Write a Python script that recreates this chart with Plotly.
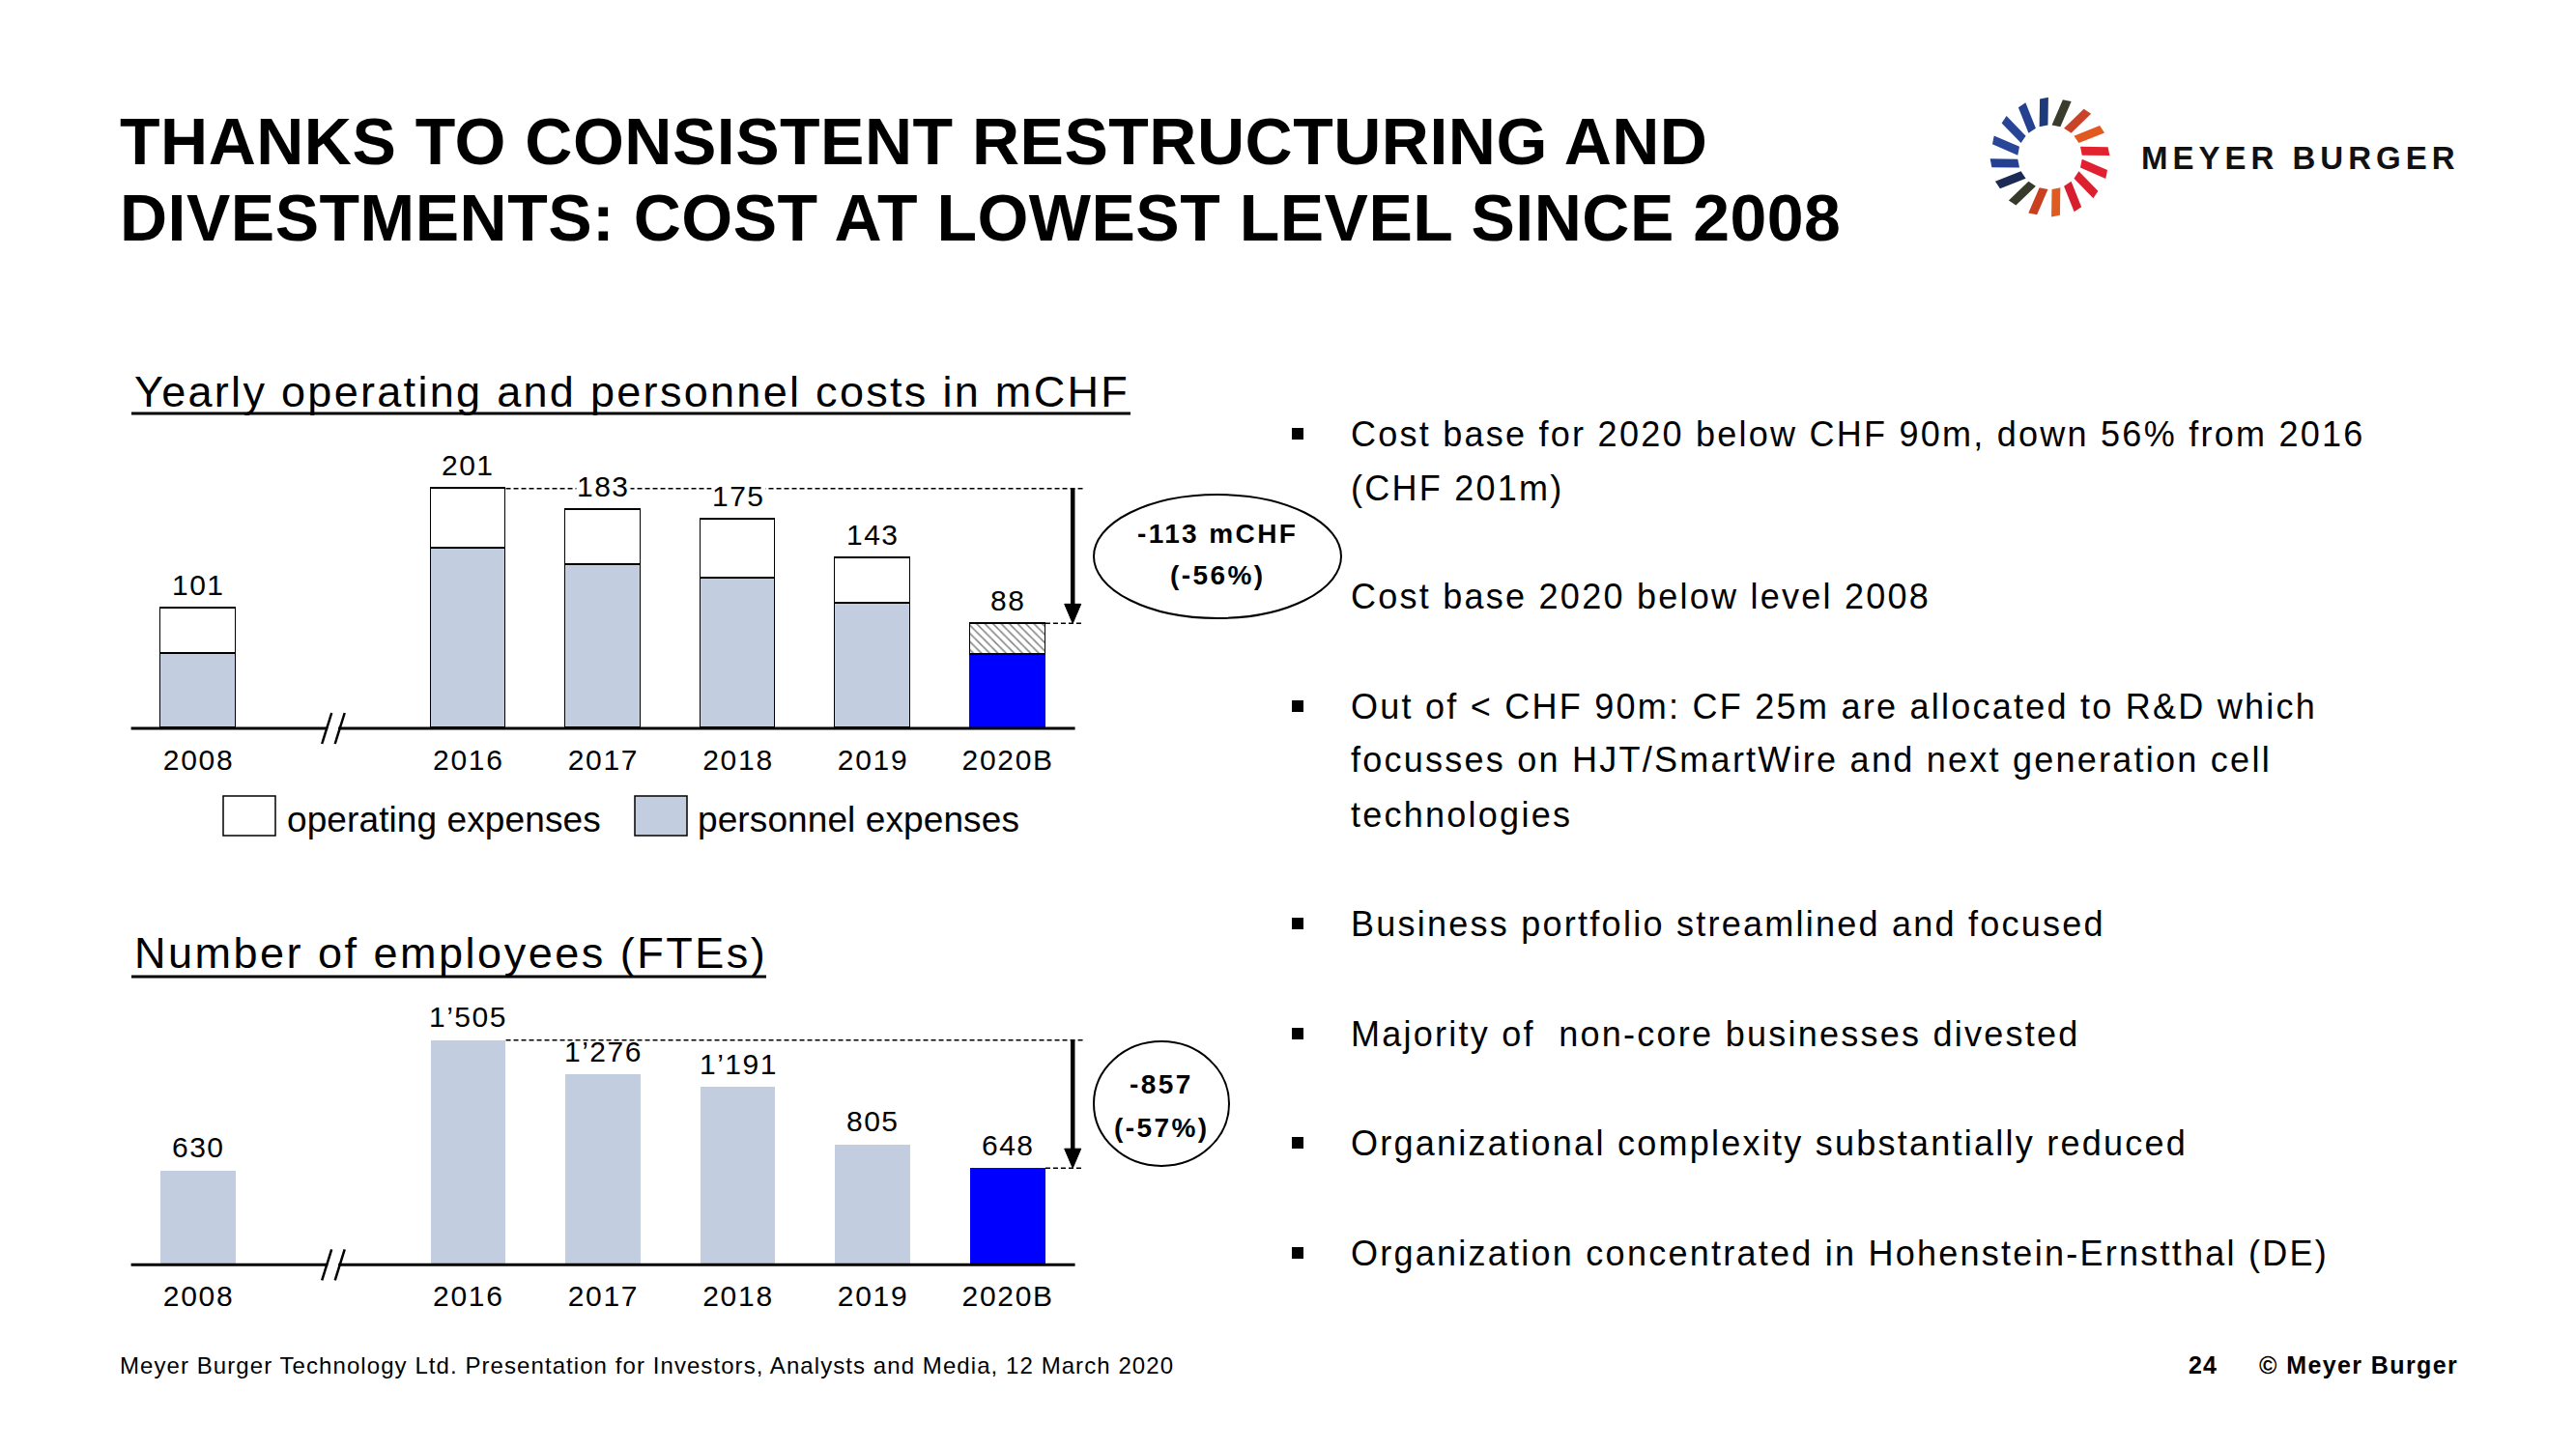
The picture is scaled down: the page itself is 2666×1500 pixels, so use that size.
import math
import plotly.graph_objects as go

# ---------------- data ----------------
years = ["2008", "2016", "2017", "2018", "2019", "2020B"]
year_pos = [0, 2, 3, 4, 5, 6]              # axis break between 2008 and 2016
total_costs = [101, 201, 183, 175, 143, 88]
personnel_costs = [63, 151, 137, 126, 105, 62]
operating_costs = [t - p for t, p in zip(total_costs, personnel_costs)]
employees = [630, 1505, 1276, 1191, 805, 648]

title_lines = ["THANKS TO CONSISTENT RESTRUCTURING AND",
               "DIVESTMENTS: COST AT LOWEST LEVEL SINCE 2008"]
cost_title = "Yearly operating and personnel costs in mCHF"
fte_title = "Number of employees (FTEs)"
legend_labels = ["operating expenses", "personnel expenses"]
# (text, has_bullet, y-centre in px)
bullet_lines = [
    ("Cost base for 2020 below CHF 90m, down 56% from 2016", True, 449),
    ("(CHF 201m)", False, 505),
    ("Cost base 2020 below level 2008", False, 617),
    ("Out of &lt; CHF 90m: CF 25m are allocated to R&amp;D which", True, 731),
    ("focusses on HJT/SmartWire and next generation cell", False, 787),
    ("technologies", False, 843),
    ("Business portfolio streamlined and focused", True, 956),
    ("Majority of\u00a0 non-core businesses divested", True, 1070),
    ("Organizational complexity substantially reduced", True, 1183),
    ("Organization concentrated in Hohenstein-Ernstthal (DE)", True, 1297),
]
footer_text = "Meyer Burger Technology Ltd. Presentation for Investors, Analysts and Media, 12 March 2020"
page_no = "24"
copyright_text = "© Meyer Burger"
logo_text = "MEYER BURGER"

# ---------------- styling / geometry ----------------
W, H = 2666, 1500
FONT = "Liberation Sans, Arial, sans-serif"
LIGHT = "#C3CDE0"
BLUE = "#0000FF"

X0_PX, UNIT = 205.6, 139.6
x_range = [-0.503, 6.9]
xdom = [(X0_PX + x_range[0] * UNIT) / W, (X0_PX + x_range[1] * UNIT) / W]
BASE1, S1, YMAX1 = 754.0, 1.235, 240
BASE2, S2, YMAX2 = 1309.3, 0.15455, 1800
ydom1 = [1 - BASE1 / H, 1 - (BASE1 - YMAX1 * S1) / H]
ydom2 = [1 - BASE2 / H, 1 - (BASE2 - YMAX2 * S2) / H]
BAR_W = 0.555
ARROW_X = 6.48
DASH_END = 6.56
AXIS_END = 6.497


def px(x):
    return x / W


def py(y):
    return 1 - y / H


def sp(text, ls):
    return f"<span style='letter-spacing:{ls}px'>{text}</span>"


def fmt(v):
    return f"{v:,}".replace(",", "\u2019")


fig = go.Figure()

# ---------------- bars ----------------
fig.add_trace(go.Bar(
    x=year_pos, y=personnel_costs, width=BAR_W, xaxis="x", yaxis="y",
    marker=dict(color=[LIGHT] * 5 + [BLUE],
                line=dict(color=["black"] * 5 + [BLUE], width=1.5)),
    hoverinfo="skip", showlegend=False))
fig.add_trace(go.Bar(
    x=year_pos, y=operating_costs, width=BAR_W, xaxis="x", yaxis="y",
    marker=dict(color="white", line=dict(color="black", width=1.5),
                pattern=dict(shape=[""] * 5 + ["\\"], fgcolor="black",
                             bgcolor="white", size=6, solidity=0.25)),
    hoverinfo="skip", showlegend=False))
fig.add_trace(go.Bar(
    x=year_pos, y=employees, width=BAR_W, xaxis="x2", yaxis="y2",
    marker=dict(color=[LIGHT] * 5 + [BLUE], line=dict(width=0)),
    hoverinfo="skip", showlegend=False))

tick_text = [sp(y, 1.7) for y in years]
axis_common = dict(domain=xdom, range=x_range, tickvals=year_pos, ticktext=tick_text,
                   showgrid=False, zeroline=False, showline=False, ticks="",
                   tickfont=dict(family=FONT, size=30, color="black"),
                   ticklabelstandoff=12, fixedrange=True)

shapes = []
annotations = []


# ---------------- per-chart decorations ----------------
def chart_decor(xr, yr, ydom, values, labels, scale, white_bg):
    # baseline
    shapes.append(dict(type="line", xref=xr, yref="paper", x0=x_range[0], x1=AXIS_END,
                       y0=ydom[0], y1=ydom[0], line=dict(color="black", width=3)))
    # axis break //
    shapes.append(dict(type="rect", xref=xr, yref="paper", xsizemode="pixel", ysizemode="pixel",
                       xanchor=1, yanchor=ydom[0], x0=-6, x1=5, y0=-3, y1=3,
                       fillcolor="white", line=dict(width=0)))
    for dx in (-7, 6.5):
        shapes.append(dict(type="line", xref=xr, yref="paper", xsizemode="pixel", ysizemode="pixel",
                           xanchor=1, yanchor=ydom[0], x0=dx - 5, y0=-16, x1=dx + 5, y1=16,
                           line=dict(color="black", width=2.5)))
    hi, lo = values[1], values[-1]
    # dashed reference lines
    shapes.append(dict(type="line", xref=xr, yref=yr, x0=year_pos[1] + BAR_W / 2, x1=DASH_END,
                       y0=hi, y1=hi, line=dict(color="black", width=1.5, dash="5px,3px")))
    shapes.append(dict(type="line", xref=xr, yref=yr, x0=year_pos[-1] + BAR_W / 2, x1=DASH_END,
                       y0=lo, y1=lo, line=dict(color="black", width=1.5, dash="5px,3px")))
    # arrow
    shapes.append(dict(type="line", xref=xr, yref=yr, x0=ARROW_X, x1=ARROW_X,
                       y0=hi, y1=lo + 14 / scale, line=dict(color="black", width=4.5)))
    shapes.append(dict(type="path", xref=xr, yref=yr, xsizemode="pixel", ysizemode="pixel",
                       xanchor=ARROW_X, yanchor=lo, path="M -8.5 20 L 8.5 20 L 0 0 Z",
                       fillcolor="black", line=dict(color="black", width=1)))
    # value labels
    for xp, v, lab in zip(year_pos, values, labels):
        annotations.append(dict(x=xp, y=v, xref=xr, yref=yr, yshift=24, showarrow=False,
                                text=sp(lab, 1.5), font=dict(family=FONT, size=30, color="black"),
                                bgcolor="white" if white_bg else "rgba(0,0,0,0)", borderpad=0,
                                xanchor="center", yanchor="middle"))


chart_decor("x", "y", ydom1, total_costs, [str(v) for v in total_costs], S1, True)
chart_decor("x2", "y2", ydom2, employees, [fmt(v) for v in employees], S2, False)

# ellipses with change
cost_diff = total_costs[-1] - total_costs[1]
cost_pct = round(cost_diff / total_costs[1] * 100)
fte_diff = employees[-1] - employees[1]
fte_pct = round(fte_diff / employees[1] * 100)

shapes.append(dict(type="circle", xref="paper", yref="paper", x0=px(1132), x1=px(1388),
                   y0=py(640), y1=py(512), line=dict(color="black", width=2)))
shapes.append(dict(type="circle", xref="paper", yref="paper", x0=px(1132), x1=px(1272),
                   y0=py(1207), y1=py(1078), line=dict(color="black", width=2)))
for txt, x, y in [(f"{cost_diff} mCHF", 1260, 552), (f"({cost_pct}%)", 1260, 595),
                  (f"{fte_diff}", 1202, 1122), (f"({fte_pct}%)", 1202, 1167)]:
    annotations.append(dict(x=px(x), y=py(y), xref="paper", yref="paper", showarrow=False,
                            text="<b>" + sp(txt, 2.4) + "</b>", xanchor="center", yanchor="middle",
                            font=dict(family=FONT, size=28, color="black")))

# section titles with underline
annotations.append(dict(x=px(137), y=py(405), xref="paper", yref="paper", showarrow=False,
                        text=sp(cost_title, 2.3), xanchor="left", yanchor="middle",
                        font=dict(family=FONT, size=45, color="black")))
shapes.append(dict(type="line", xref="paper", yref="paper", x0=px(136), x1=px(1170),
                   y0=py(428), y1=py(428), line=dict(color="black", width=3)))
annotations.append(dict(x=px(137), y=py(986), xref="paper", yref="paper", showarrow=False,
                        text=sp(fte_title, 2.5), xanchor="left", yanchor="middle",
                        font=dict(family=FONT, size=45, color="black")))
shapes.append(dict(type="line", xref="paper", yref="paper", x0=px(136), x1=px(793),
                   y0=py(1011), y1=py(1011), line=dict(color="black", width=3)))

# legend
for (x0, x1, fill), lab, tx in zip([(231, 285, "white"), (657, 711, LIGHT)], legend_labels, [295, 720]):
    shapes.append(dict(type="rect", xref="paper", yref="paper", x0=px(x0), x1=px(x1),
                       y0=py(865), y1=py(824), fillcolor=fill, line=dict(color="black", width=1.5)))
    annotations.append(dict(x=px(tx), y=py(848), xref="paper", yref="paper", showarrow=False,
                            text=sp(lab, 0.1), xanchor="left", yanchor="middle",
                            font=dict(family=FONT, size=37, color="black")))

# main title
for line, y in zip(title_lines, [146, 225]):
    annotations.append(dict(x=px(122), y=py(y), xref="paper", yref="paper", showarrow=False,
                            text="<b>" + sp(line, 0.5) + "</b>", xanchor="left", yanchor="middle",
                            font=dict(family=FONT, size=68, color="black")))

# bullets
for txt, bullet, y in bullet_lines:
    annotations.append(dict(x=px(1396), y=py(y), xref="paper", yref="paper", showarrow=False,
                            text=sp(txt, 2.25), xanchor="left", yanchor="middle",
                            font=dict(family=FONT, size=36, color="black")))
    if bullet:
        shapes.append(dict(type="rect", xref="paper", yref="paper", x0=px(1337), x1=px(1349),
                           y0=py(y + 6), y1=py(y - 6), fillcolor="black", line=dict(width=0)))

# footer
annotations.append(dict(x=px(122), y=py(1413), xref="paper", yref="paper", showarrow=False,
                        text=sp(footer_text, 1.07), xanchor="left", yanchor="middle",
                        font=dict(family=FONT, size=24, color="black")))
annotations.append(dict(x=px(2263), y=py(1413), xref="paper", yref="paper", showarrow=False,
                        text="<b>" + sp(page_no, 1) + "</b>", xanchor="left", yanchor="middle",
                        font=dict(family=FONT, size=25, color="black")))
annotations.append(dict(x=px(2546), y=py(1413), xref="paper", yref="paper", showarrow=False,
                        text="<b>" + sp(copyright_text, 1.4) + "</b>", xanchor="right", yanchor="middle",
                        font=dict(family=FONT, size=25, color="black")))

# logo
annotations.append(dict(x=px(2214), y=py(163), xref="paper", yref="paper", showarrow=False,
                        text="<b>" + sp(logo_text, 5) + "</b>", xanchor="left", yanchor="middle",
                        font=dict(family=FONT, size=33, color="#111111")))
ray_colors = ["#E3222F", "#E2581E", "#C9432A", "#3B3B2E", "#1E3A7A", "#23418F", "#284497", "#2A4699",
              "#254090", "#1B2B55", "#353A2B", "#C8401F", "#DE5C21", "#D71E2D", "#DC2030", "#E12131"]
cx, cy = 2121.5, 162.7
r1, r2, w, shear = 33, 61, 9, 6
for k, col in enumerate(ray_colors):
    th = math.radians(11.25 + 22.5 * k)
    ux, uy = math.cos(th), -math.sin(th)
    nx, ny = -uy, ux
    pts = [(cx + r1 * ux + w / 2 * nx, cy + r1 * uy + w / 2 * ny),
           (cx + r1 * ux - w / 2 * nx, cy + r1 * uy - w / 2 * ny),
           (cx + r2 * ux + (shear - w / 2) * nx, cy + r2 * uy + (shear - w / 2) * ny),
           (cx + r2 * ux + (shear + w / 2) * nx, cy + r2 * uy + (shear + w / 2) * ny)]
    path = "M " + " L ".join(f"{px(a):.5f} {py(b):.5f}" for a, b in pts) + " Z"
    shapes.append(dict(type="path", xref="paper", yref="paper", path=path,
                       fillcolor=col, line=dict(width=0)))

fig.update_layout(
    width=W, height=H, margin=dict(l=0, r=0, t=0, b=0),
    paper_bgcolor="white", plot_bgcolor="rgba(0,0,0,0)",
    barmode="stack", bargap=0, showlegend=False,
    xaxis=dict(anchor="y", **axis_common),
    yaxis=dict(domain=ydom1, range=[0, YMAX1], visible=False, fixedrange=True),
    xaxis2=dict(anchor="y2", **axis_common),
    yaxis2=dict(domain=ydom2, range=[0, YMAX2], visible=False, fixedrange=True),
    shapes=shapes, annotations=annotations,
)

fig.write_html("out.html", config=dict(displayModeBar=False))
